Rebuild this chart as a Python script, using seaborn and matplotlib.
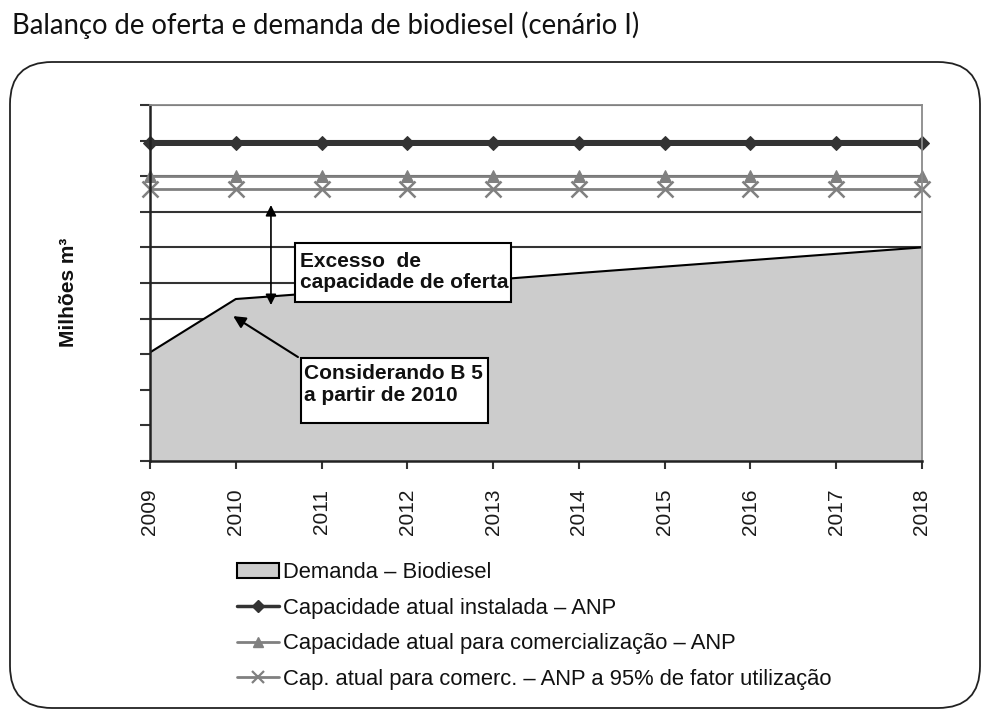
import matplotlib
matplotlib.use("Agg")
import matplotlib.pyplot as plt
import matplotlib.transforms as mtransforms
import seaborn as sns
import pandas as pd
from matplotlib.patches import FancyBboxPatch, Rectangle, Patch
from matplotlib.lines import Line2D

# ---- data (y axis in arbitrary units 0..10, unlabeled) ----
years = [2009, 2010, 2011, 2012, 2013, 2014, 2015, 2016, 2017, 2018]
demanda = [3.05, 4.55, 4.73, 4.91, 5.09, 5.28, 5.46, 5.64, 5.82, 6.00]
cap_instalada = [8.92, 8.92, 8.92, 8.92, 8.92, 8.92, 8.92, 8.92, 8.92, 8.92]
cap_comerc = [8.01, 8.01, 8.01, 8.01, 8.01, 8.01, 8.01, 8.01, 8.01, 8.01]
cap_95 = [7.63, 7.63, 7.63, 7.63, 7.63, 7.63, 7.63, 7.63, 7.63, 7.63]
year_labels = [str(y) for y in years]
series_labels = [
    "Demanda – Biodiesel",
    "Capacidade atual instalada – ANP",
    "Capacidade atual para comercialização – ANP",
    "Cap. atual para comerc. – ANP a 95% de fator utilização",
]
title = "Balanço de oferta e demanda de biodiesel (cenário I)"
ylabel = "Milhões m³"
note1 = "Excesso  de\ncapacidade de oferta"
note2 = "Considerando B 5\na partir de 2010"

df = pd.DataFrame({"ano": years, "demanda": demanda, "inst": cap_instalada,
                   "comerc": cap_comerc, "c95": cap_95})

sns.set_theme(style="white")
plt.rcParams["font.family"] = ["Liberation Sans", "DejaVu Sans"]

W, H = 988, 718
fig = plt.figure(figsize=(W / 100, H / 100), dpi=100)
ax = fig.add_axes([150 / W, 1 - 461 / H, 772 / W, 356 / H])

# demand area
ax.fill_between(df["ano"], df["demanda"], 0, facecolor="#cccccc", edgecolor="none", zorder=2)
sns.lineplot(data=df, x="ano", y="demanda", ax=ax, color="black", lw=1.5, zorder=3, legend=False)

# capacity lines
sns.lineplot(data=df, x="ano", y="inst", ax=ax, color="#333333", lw=3.6, marker="D",
             markersize=7.5, markeredgecolor="#333333", zorder=4, legend=False, clip_on=False)
sns.lineplot(data=df, x="ano", y="comerc", ax=ax, color="#808080", lw=2.0, marker="^",
             markersize=9, markeredgecolor="#808080", zorder=4, legend=False, clip_on=False)
sns.lineplot(data=df, x="ano", y="c95", ax=ax, color="#808080", lw=2.0, marker="x",
             markersize=11, markeredgewidth=1.8, markeredgecolor="#808080", zorder=4,
             legend=False, clip_on=False)

ax.set_xlim(2009, 2018)
ax.set_ylim(0, 10)
ax.set_xticks(years)
ax.set_xticklabels(year_labels, rotation=90, fontsize=15, color="#1a1a1a")
ax.set_yticks(range(0, 11))
ax.set_yticklabels([])
ax.set_xlabel("")
ax.set_ylabel("")
ax.yaxis.grid(True, color="#333333", lw=1.5)
ax.xaxis.grid(False)
ax.set_axisbelow(True)
ax.tick_params(axis="y", direction="out", length=7, width=1.5, color="#333333", left=True)
ax.tick_params(axis="x", direction="out", length=6, width=1.5, color="#333333", bottom=True, pad=14)
for s in ["left", "bottom"]:
    ax.spines[s].set_color("#222222")
    ax.spines[s].set_linewidth(1.8)
for s in ["top", "right"]:
    ax.spines[s].set_color("#8a8a8a")
    ax.spines[s].set_linewidth(1.3)
for s in ax.spines.values():
    s.set_zorder(6)

# annotations
ax.annotate("", xy=(2010.41, 7.19), xytext=(2010.41, 4.38),
            arrowprops=dict(arrowstyle="<|-|>", color="black", lw=1.2, mutation_scale=16,
                            shrinkA=0, shrinkB=0), zorder=7)
ax.add_patch(Rectangle((2010.69, 4.47), 2.52, 1.65, facecolor="white", edgecolor="black",
                       lw=1.5, zorder=7))
ax.text(2010.75, 5.31, note1, ha="left", va="center", fontsize=15, fontweight="bold",
        color="#111111", zorder=8, linespacing=1.15)

ax.annotate("", xy=(2009.97, 4.07), xytext=(2010.725, 2.92),
            arrowprops=dict(arrowstyle="-|>", color="black", lw=1.5, mutation_scale=18,
                            shrinkA=0, shrinkB=0), zorder=7)
ax.add_patch(Rectangle((2010.76, 1.07), 2.18, 1.82, facecolor="white", edgecolor="black",
                       lw=1.5, zorder=7))
ax.text(2010.795, 2.15, note2, ha="left", va="center", fontsize=15, fontweight="bold",
        color="#111111", zorder=8, linespacing=1.15)

# title, y label
fig.text(12 / W, 1 - 25 / H, title, ha="left", va="center", fontsize=19.8,
         family=["Lato", "DejaVu Sans"], color="#111111")
fig.text(68 / W, 1 - 292 / H, ylabel, ha="center", va="center", rotation=90,
         fontsize=15, fontweight="bold", color="#111111")

# rounded frame
frame = FancyBboxPatch((10, 10), 970, 646, boxstyle="round,pad=0,rounding_size=42",
                       transform=mtransforms.IdentityTransform(), facecolor="none",
                       edgecolor="#222222", lw=1.3)
fig.add_artist(frame)

# legend
handles = [
    Patch(facecolor="#cccccc", edgecolor="black", lw=1.5),
    Line2D([], [], color="#333333", lw=2.5, marker="D", markersize=6.5),
    Line2D([], [], color="#808080", lw=2, marker="^", markersize=7.5),
    Line2D([], [], color="#808080", lw=2, marker="x", markersize=9, markeredgewidth=1.6),
]
fig.legend(handles, series_labels, loc="upper left", bbox_to_anchor=(237 / W, 1 - 562 / H),
           frameon=False, fontsize=15.8, handlelength=1.9, handletextpad=0.2,
           labelspacing=0.67, borderpad=0, borderaxespad=0, labelcolor="#111111")

fig.savefig("out.png", dpi=100)
